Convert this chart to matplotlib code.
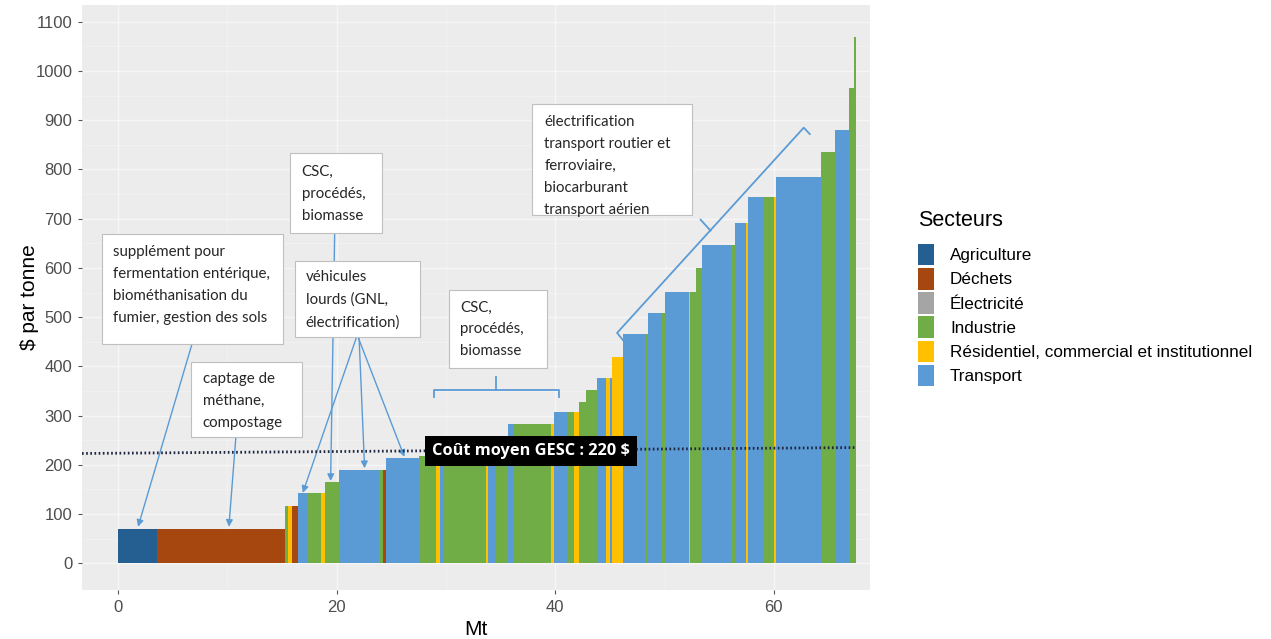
import numpy as np
import matplotlib.pyplot as plt
from matplotlib.patches import Patch, Rectangle

PANEL_BG = "#ECECEC"
ARROW_COLOR = "#5B9BD5"
BOX_FONT = "Lato"
AXIS_FONT = "Liberation Sans"

SECTOR_NAMES = {
    "A": "Agriculture",
    "D": "Déchets",
    "E": "Électricité",
    "I": "Industrie",
    "R": "Résidentiel, commercial et institutionnel",
    "T": "Transport",
}
SECTOR_COLORS = {
    "A": "#255E91",
    "D": "#A5470F",
    "E": "#A5A5A5",
    "I": "#70AD47",
    "R": "#FFC000",
    "T": "#5B9BD5",
}

# abatement measures, in merit order
widths = [3.56, 11.69, 0.30, 0.40, 0.49, 0.88, 1.28, 0.30, 1.28, 3.66,
          0.36, 0.34, 3.04, 1.55, 0.34, 0.39, 3.84, 0.18, 0.72, 1.10,
          0.46, 3.47, 0.23, 1.24, 0.63, 0.46, 0.61, 1.04, 0.79, 0.35,
          0.22, 1.01, 2.07, 0.21, 1.28, 0.28, 2.19, 0.10, 0.52, 0.57,
          2.62, 0.40, 0.97, 0.22, 1.46, 0.91, 0.23, 4.06, 1.34, 1.22,
          0.45, 0.19]
costs = [70, 70, 116, 116, 116, 142, 142, 142, 165, 189,
         189, 189, 213, 218, 222, 225, 232, 240, 245, 255,
         283, 283, 283, 308, 308, 308, 328, 352, 376, 376,
         376, 420, 466, 466, 508, 508, 552, 552, 552, 600,
         647, 647, 692, 692, 745, 745, 745, 785, 835, 880,
         965, 1070]
sectors = ["A", "D", "I", "R", "D", "T", "I", "R", "I", "T",
           "I", "D", "T", "I", "R", "T", "I", "R", "T", "I",
           "T", "I", "R", "T", "I", "R", "I", "I", "T", "R",
           "T", "R", "T", "I", "T", "I", "T", "R", "I", "I",
           "T", "I", "T", "R", "T", "I", "R", "T", "I", "T",
           "I", "I"]

MEAN_LABEL = "Coût moyen GESC : 220 $"
mean_line_x = [-3.3, 67.4]
mean_line_y = [223, 235]

X_TICKS = [0, 20, 40, 60]
Y_TICKS = list(range(0, 1101, 100))


def draw_box(ax, x0, y0, x1, y1, text, tx, ty):
    ax.add_patch(Rectangle((x0, y0), x1 - x0, y1 - y0, facecolor="white",
                           edgecolor="#BFBFBF", linewidth=0.8, zorder=6))
    ax.text(tx, ty, text, fontsize=10.8, family=BOX_FONT, color="#262626",
            va="top", ha="left", linespacing=1.72, zorder=7)


def arrow(ax, start, end, z=4):
    ax.annotate("", xy=end, xytext=start, zorder=z,
                arrowprops=dict(arrowstyle="-|>", color=ARROW_COLOR, lw=1.0,
                                mutation_scale=10, shrinkA=0, shrinkB=0))


def main():
    fig = plt.figure(figsize=(12.71, 6.39), dpi=100)
    ax = fig.add_axes([0.0645, 0.077, 0.62, 0.915])
    ax.set_facecolor(PANEL_BG)

    lefts = np.concatenate([[0], np.cumsum(widths)[:-1]])
    colors = [SECTOR_COLORS[s] for s in sectors]
    ax.bar(lefts, costs, width=widths, align="edge", color=colors,
           linewidth=0, zorder=2)

    ax.set_xlim(-3.3, 68.8)
    ax.set_ylim(-54, 1134)
    ax.set_xticks(X_TICKS)
    ax.set_yticks(Y_TICKS)
    ax.set_xticks([10, 30, 50], minor=True)
    ax.set_yticks(np.arange(50, 1101, 100), minor=True)
    ax.grid(True, which="major", color="white", linewidth=1.0, alpha=0.55,
            zorder=0)
    ax.grid(True, which="minor", color="white", linewidth=0.5, alpha=0.4,
            zorder=0)
    ax.set_axisbelow(True)
    for sp in ax.spines.values():
        sp.set_visible(False)
    ax.tick_params(which="major", length=3, color="#555555", labelsize=12,
                   labelcolor="#4D4D4D", pad=4)
    ax.tick_params(which="minor", length=0)
    for lab in ax.get_xticklabels() + ax.get_yticklabels():
        lab.set_family(AXIS_FONT)
    ax.set_xlabel("Mt", fontsize=15, family=AXIS_FONT, labelpad=4)
    ax.set_ylabel("$ par tonne", fontsize=15, family=AXIS_FONT, labelpad=-3)

    # average cost line
    ax.plot(mean_line_x, mean_line_y, color="#1F2640", lw=2,
            linestyle=(0, (0.6, 0.9)), zorder=5)
    ax.text(37.8, 228, MEAN_LABEL, color="white", fontsize=11.8,
            fontweight="bold", family="Open Sans", ha="center", va="center",
            zorder=8,
            bbox=dict(boxstyle="square,pad=0.42", facecolor="black",
                      edgecolor="none"))

    # arrows (drawn under the boxes)
    arrow(ax, (6.76, 445), (1.83, 74))
    arrow(ax, (10.78, 256), (10.14, 74))
    arrow(ax, (19.82, 671), (19.45, 167))
    arrow(ax, (21.83, 460), (16.9, 143))
    arrow(ax, (22.05, 460), (22.56, 193))
    arrow(ax, (21.95, 460), (26.2, 216))

    draw_box(ax, -1.46, 445, 15.07, 669,
             "supplément pour\nfermentation entérique,\n"
             "biométhanisation du\nfumier, gestion des sols", -0.45, 646)
    draw_box(ax, 6.67, 256, 16.80, 409,
             "captage de\nméthane,\ncompostage", 7.76, 388)
    draw_box(ax, 15.71, 671, 24.11, 834,
             "CSC,\nprocédés,\nbiomasse", 16.8, 809)
    draw_box(ax, 16.16, 460, 27.67, 614,
             "véhicules\nlourds (GNL,\nélectrification)", 17.17, 595)
    draw_box(ax, 30.32, 397, 39.27, 555,
             "CSC,\nprocédés,\nbiomasse", 31.3, 534)
    draw_box(ax, 37.9, 708, 52.5, 933,
             "électrification\ntransport routier et\nferroviaire,\n"
             "biocarburant\ntransport aérien", 39.0, 910)

    # brace under the second CSC box
    ax.plot([28.95, 28.95, 40.37, 40.37], [338, 352, 352, 338],
            color=ARROW_COLOR, lw=1.3, zorder=4, solid_joinstyle="round")
    ax.plot([34.6, 34.6], [352, 378], color=ARROW_COLOR, lw=1.3, zorder=4)

    # diagonal brace for transport measures
    ax.plot([46.21, 45.66, 62.74, 63.29], [453, 468, 885, 872],
            color=ARROW_COLOR, lw=1.3, zorder=4, solid_joinstyle="round")
    ax.plot([54.2, 53.3], [676, 698], color=ARROW_COLOR, lw=1.3, zorder=4)

    fig.text(0.722, 1 - 220 / 639, "Secteurs", family=AXIS_FONT, fontsize=15.5,
             ha="left", va="center")
    handles = [Patch(facecolor=SECTOR_COLORS[k], edgecolor="none",
                     label=SECTOR_NAMES[k]) for k in SECTOR_NAMES]
    fig.legend(handles=handles, loc="upper left",
               bbox_to_anchor=(0.722, 1 - 244 / 639), frameon=False,
               prop={"family": AXIS_FONT, "size": 12.3},
               handlelength=0.95, handleheight=1.55, handletextpad=0.95,
               labelspacing=0.16, borderpad=0, borderaxespad=0)

    fig.savefig("out.png", dpi=100)


if __name__ == "__main__":
    main()
